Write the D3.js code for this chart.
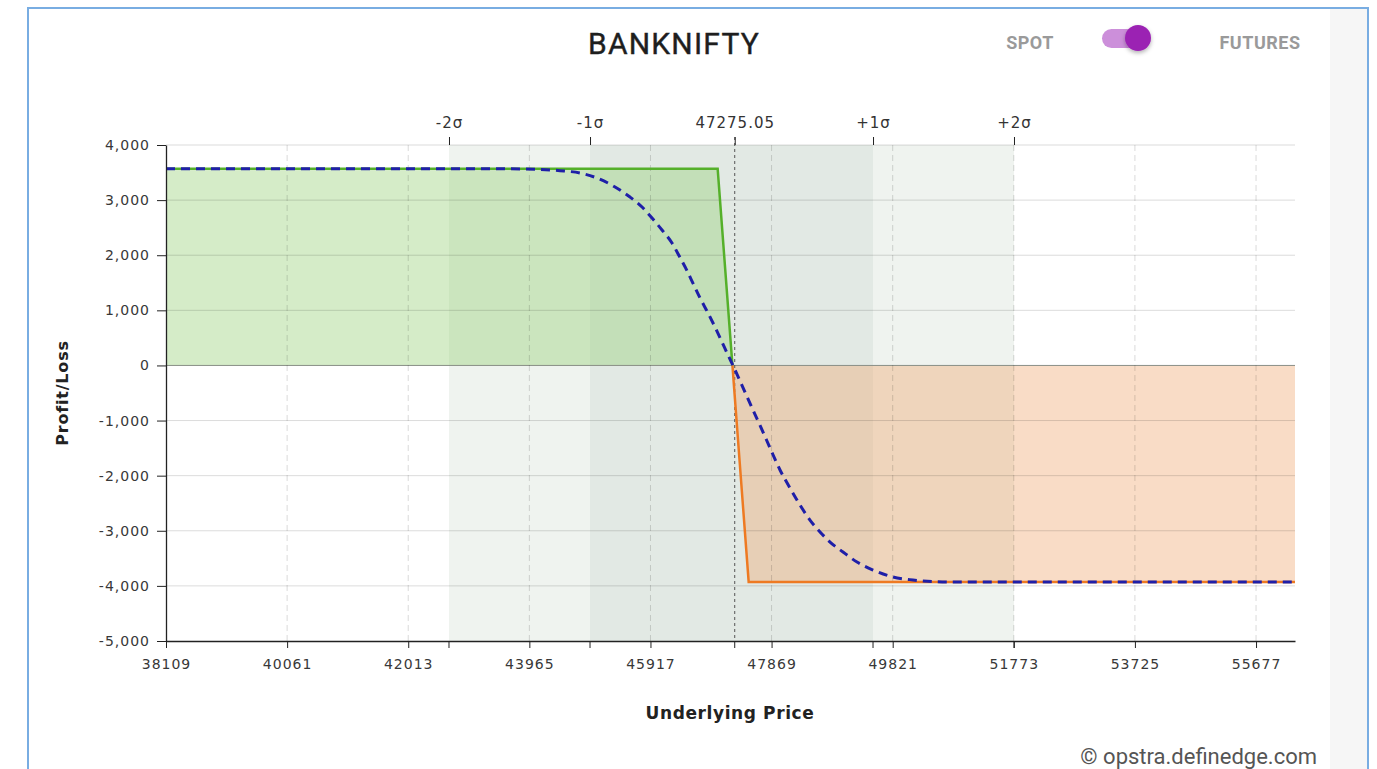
<!DOCTYPE html>
<html>
<head>
<meta charset="utf-8">
<script src="https://cdn.jsdelivr.net/npm/d3@7"></script>
<style>
  html, body { margin: 0; padding: 0; background: #fff; }
  svg { display: block; }
</style>
</head>
<body>
<svg id="chart" width="1377" height="769"></svg>
<script>
// ---------------- data ----------------
const title = "BANKNIFTY";
const xDomain = [38109, 56305];
const yDomain = [-5000, 4000];
const xTicks = [38109, 40061, 42013, 43965, 45917, 47869, 49821, 51773, 53725, 55677];
const yTicks = [4000, 3000, 2000, 1000, 0, -1000, -2000, -3000, -4000, -5000];
const spot = 47275.05;
const sigmaLabels = ["-2σ", "-1σ", "47275.05", "+1σ", "+2σ"];
const sigmaValues = [42670, 44943, 47275.05, 49504, 51776];
const breakeven = 47238;
// expiry payoff
const payoffPrice = [38109, 47000, 47238, 47500, 56305];
const payoffPnl   = [3570, 3570, 0, -3930, -3930];
// T+0 (dashed) curve
const t0Price = [38109, 43170, 43814, 44459, 44781, 45055, 45346, 45587, 45781, 45942, 46103, 46264, 46393, 46506, 46603, 46716, 46844, 46957, 47070, 47167, 47247, 47360, 47570, 47731, 47844, 48005, 48166, 48327, 48488, 48650, 48811, 49020, 49246, 49504, 49826, 50148, 50471, 50800, 56305];
const t0Pnl   = [3570, 3570, 3566, 3534, 3492, 3401, 3238, 3056, 2875, 2675, 2458, 2222, 1960, 1720, 1490, 1224, 952, 697, 425, 189, 0, -282, -809, -1208, -1498, -1897, -2224, -2532, -2805, -3022, -3204, -3385, -3567, -3712, -3839, -3893, -3922, -3930, -3930];

// ---------------- layout ----------------
const svg = d3.select("#chart");
const L = 166, R = 1295, T = 145, B = 641;
const x = d3.scaleLinear().domain(xDomain).range([L, R]);
const y = d3.scaleLinear().domain(yDomain).range([B, T]);

// frame
svg.append("rect").attr("x", 1330).attr("y", 9).attr("width", 37).attr("height", 760).attr("fill", "#f6f6f6");
svg.append("rect").attr("x", 28).attr("y", 8).attr("width", 1340).attr("height", 790)
  .attr("fill", "none").attr("stroke", "#79ade2").attr("stroke-width", 2);

// header
svg.append("text").attr("x", 674).attr("y", 54).attr("text-anchor", "middle")
  .attr("font-family", "Roboto, sans-serif").attr("font-weight", 400).attr("font-size", 30).attr("letter-spacing", 1.2)
  .attr("fill", "#1e1e1e").attr("stroke", "#1e1e1e").attr("stroke-width", 0.4).text(title);
svg.append("text").attr("x", 1030).attr("y", 49).attr("text-anchor", "middle")
  .attr("font-family", "Roboto, sans-serif").attr("font-weight", 700).attr("font-size", 18)
  .attr("letter-spacing", 0.5).attr("fill", "#9a9a9a").text("SPOT");
svg.append("text").attr("x", 1260).attr("y", 49).attr("text-anchor", "middle")
  .attr("font-family", "Roboto, sans-serif").attr("font-weight", 700).attr("font-size", 18)
  .attr("letter-spacing", 0.5).attr("fill", "#9a9a9a").text("FUTURES");
const defs = svg.append("defs");
const f = defs.append("filter").attr("id", "sh").attr("x", "-50%").attr("y", "-50%").attr("width", "200%").attr("height", "200%");
f.append("feDropShadow").attr("dx", 0).attr("dy", 2).attr("stdDeviation", 2).attr("flood-color", "#000").attr("flood-opacity", 0.3);
svg.append("rect").attr("x", 1102).attr("y", 29).attr("width", 40).attr("height", 19).attr("rx", 9.5).attr("fill", "#cc8fda");
svg.append("circle").attr("cx", 1138).attr("cy", 38).attr("r", 13).attr("fill", "#9b22b3").attr("filter", "url(#sh)");

// sigma bands
svg.append("rect").attr("x", x(sigmaValues[0])).attr("y", T)
  .attr("width", x(sigmaValues[4]) - x(sigmaValues[0])).attr("height", B - T).attr("fill", "#eff3ef");
svg.append("rect").attr("x", x(sigmaValues[1])).attr("y", T)
  .attr("width", x(sigmaValues[3]) - x(sigmaValues[1])).attr("height", B - T).attr("fill", "#e2e9e4");

// payoff areas
const payoff = payoffPrice.map((p, i) => ({ p, v: payoffPnl[i] }));
const greenPts = payoff.filter(d => d.p <= breakeven);
const orangePts = payoff.filter(d => d.p >= breakeven);
const area = d3.area().x(d => x(d.p)).y0(y(0)).y1(d => y(d.v));
svg.append("path").datum(greenPts).attr("d", area).attr("fill", "rgb(150,207,117)").attr("fill-opacity", 0.4);
svg.append("path").datum(orangePts).attr("d", area).attr("fill", "rgb(240,167,112)").attr("fill-opacity", 0.4);

// horizontal grid
svg.append("g").selectAll("line").data(yTicks.filter(v => v !== -5000)).join("line")
  .attr("x1", L).attr("x2", R).attr("y1", d => y(d)).attr("y2", d => y(d))
  .attr("stroke", d => d === 0 ? "#8a8f86" : "rgba(0,0,0,0.14)").attr("stroke-width", 1);
// vertical dashed grid
svg.append("g").selectAll("line").data(xTicks.slice(1)).join("line")
  .attr("x1", d => x(d)).attr("x2", d => x(d)).attr("y1", T).attr("y2", B)
  .attr("stroke", "rgba(0,0,0,0.15)").attr("stroke-dasharray", "6,4");

// spot line
svg.append("line").attr("x1", x(spot)).attr("x2", x(spot)).attr("y1", T - 8).attr("y2", B)
  .attr("stroke", "#555").attr("stroke-width", 1).attr("stroke-dasharray", "3,3");

// payoff lines
const line = d3.line().x(d => x(d.p)).y(d => y(d.v));
svg.append("path").datum(greenPts).attr("d", line).attr("fill", "none").attr("stroke", "#55b02a").attr("stroke-width", 2.5);
svg.append("path").datum(orangePts).attr("d", line).attr("fill", "none").attr("stroke", "#ee7a22").attr("stroke-width", 2.5);

// T+0 dashed
const t0 = t0Price.map((p, i) => ({ p, v: t0Pnl[i] }));
svg.append("path").datum(t0).attr("d", line.curve(d3.curveMonotoneX)).attr("fill", "none")
  .attr("stroke", "#1f1fa8").attr("stroke-width", 3).attr("stroke-dasharray", "9,6");

// axes
const tickFont = "'DejaVu Sans', Verdana, sans-serif";
const fmtY = v => d3.format(",")(v).replace("\u2212", "-");
const yAxis = svg.append("g").attr("transform", `translate(${L},0)`)
  .call(d3.axisLeft(y).tickValues(yTicks).tickFormat(fmtY).tickSize(9).tickSizeOuter(0).tickPadding(7));
const xAxis = svg.append("g").attr("transform", `translate(0,${B})`)
  .call(d3.axisBottom(x).tickValues(xTicks).tickFormat(d3.format("d")).tickSize(7).tickSizeOuter(0).tickPadding(11));
xAxis.append("g").selectAll("line").data(sigmaValues).join("line")
  .attr("x1", d => x(d)).attr("x2", d => x(d)).attr("y1", 0).attr("y2", 7).attr("stroke", "#222");
const topAxis = svg.append("g").attr("transform", `translate(0,${T})`)
  .call(d3.axisTop(x).tickValues(sigmaValues).tickFormat((d, i) => sigmaLabels[i]).tickSize(8).tickPadding(9));
topAxis.select(".domain").remove();
[yAxis, xAxis].forEach(g => g.select(".domain").attr("stroke", "#222").attr("stroke-width", 1.3));
[yAxis, xAxis, topAxis].forEach(g => {
  g.selectAll(".tick line").attr("stroke", "#222");
  g.selectAll("text").attr("font-family", tickFont).attr("font-size", 14).attr("fill", "#383838").attr("letter-spacing", 1);
});
topAxis.selectAll("text").attr("font-size", 15).attr("fill", "#333").attr("letter-spacing", 1);

// axis titles
svg.append("text").attr("x", 730).attr("y", 719).attr("text-anchor", "middle")
  .attr("font-family", tickFont).attr("font-weight", 700).attr("font-size", 17).attr("letter-spacing", 0.6)
  .attr("fill", "#222").text("Underlying Price");
svg.append("text").attr("transform", "translate(68,393) rotate(-90)").attr("text-anchor", "middle")
  .attr("font-family", tickFont).attr("font-weight", 700).attr("font-size", 16).attr("letter-spacing", 0.8)
  .attr("fill", "#222").text("Profit/Loss");

// footer
svg.append("text").attr("x", 1317).attr("y", 764).attr("text-anchor", "end")
  .attr("font-family", "Roboto, sans-serif").attr("font-size", 22).attr("fill", "#555")
  .text("© opstra.definedge.com");
</script>
</body>
</html>
